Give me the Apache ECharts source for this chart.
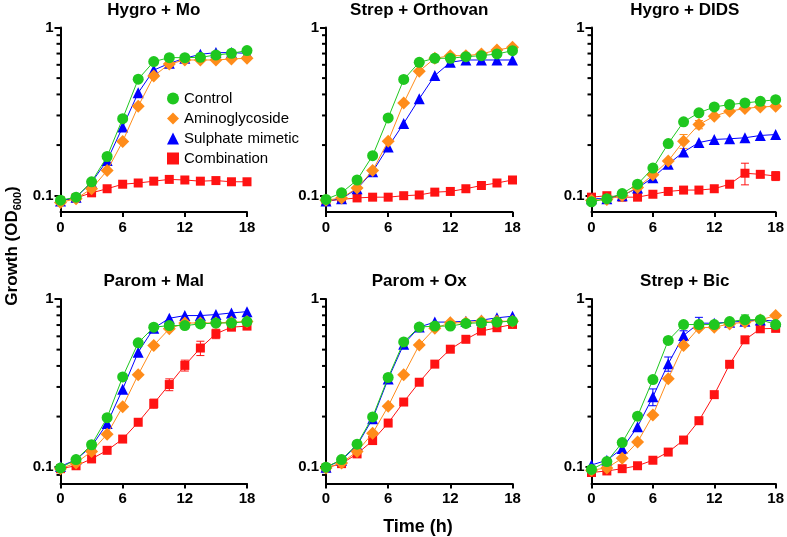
<!DOCTYPE html>
<html>
<head>
<meta charset="utf-8">
<script src="https://cdn.jsdelivr.net/npm/echarts@6/dist/echarts.min.js"></script>
<style>
  html, body { margin: 0; padding: 0; background: #fff; }
  #mybox { width: 787px; height: 537px; }
</style>
</head>
<body>
<div id="mybox"></div>
<script>
// time points (h)
var hours = [0, 1.5, 3, 4.5, 6, 7.5, 9, 10.5, 12, 13.5, 15, 16.5, 18];
var seriesNames = ['Control', 'Aminoglycoside', 'Sulphate mimetic', 'Combination'];
var panelTitles = ['Hygro + Mo', 'Strep + Orthovan', 'Hygro + DIDS', 'Parom + Mal', 'Parom + Ox', 'Strep + Bic'];
var xTicks = [0, 6, 12, 18];
var yLabels = [0.1, 1];
var yMinorTicks = [0.09, 0.2, 0.3, 0.4, 0.5, 0.6, 0.7, 0.8, 0.9];

// OD600 per panel: [control, aminoglycoside, sulphate mimetic, combination]
var hygroMo = [
    [0.094, 0.098, 0.121, 0.171, 0.287, 0.493, 0.627, 0.662, 0.662, 0.665, 0.686, 0.702, 0.729],
    [0.091, 0.096, 0.110, 0.141, 0.210, 0.340, 0.514, 0.607, 0.641, 0.641, 0.641, 0.650, 0.656],
    [0.093, 0.098, 0.120, 0.162, 0.256, 0.409, 0.558, 0.612, 0.656, 0.693, 0.709, 0.709, 0.702],
    [0.093, 0.097, 0.104, 0.110, 0.117, 0.119, 0.122, 0.125, 0.124, 0.122, 0.123, 0.121, 0.121]
];
var strepOrthovan = [
    [0.095, 0.104, 0.124, 0.173, 0.290, 0.491, 0.621, 0.656, 0.656, 0.671, 0.680, 0.696, 0.728],
    [0.094, 0.097, 0.111, 0.141, 0.211, 0.356, 0.550, 0.656, 0.680, 0.680, 0.696, 0.735, 0.762],
    [0.093, 0.096, 0.110, 0.139, 0.195, 0.269, 0.377, 0.518, 0.621, 0.641, 0.641, 0.641, 0.641],
    [0.093, 0.095, 0.097, 0.098, 0.098, 0.100, 0.101, 0.105, 0.106, 0.110, 0.115, 0.119, 0.124]
];
var hygroDids = [
    [0.092, 0.096, 0.103, 0.117, 0.146, 0.204, 0.275, 0.311, 0.337, 0.348, 0.356, 0.364, 0.372],
    [0.094, 0.095, 0.100, 0.112, 0.133, 0.161, 0.211, 0.265, 0.297, 0.318, 0.330, 0.337, 0.340],
    [0.096, 0.096, 0.100, 0.111, 0.128, 0.154, 0.182, 0.207, 0.216, 0.218, 0.221, 0.228, 0.231],
    [0.098, 0.100, 0.098, 0.098, 0.102, 0.106, 0.108, 0.108, 0.110, 0.117, 0.136, 0.134, 0.131]
];
var paromMal = [
    [0.099, 0.111, 0.136, 0.197, 0.344, 0.549, 0.680, 0.695, 0.695, 0.711, 0.720, 0.720, 0.734],
    [0.098, 0.106, 0.124, 0.157, 0.229, 0.355, 0.530, 0.665, 0.720, 0.720, 0.720, 0.727, 0.734],
    [0.101, 0.111, 0.133, 0.182, 0.291, 0.483, 0.670, 0.768, 0.797, 0.797, 0.808, 0.826, 0.841],
    [0.098, 0.102, 0.112, 0.126, 0.147, 0.185, 0.239, 0.310, 0.403, 0.511, 0.621, 0.680, 0.690]
];
var paromOx = [
    [0.100, 0.111, 0.137, 0.199, 0.342, 0.556, 0.681, 0.690, 0.690, 0.716, 0.722, 0.729, 0.738],
    [0.099, 0.106, 0.124, 0.159, 0.230, 0.355, 0.533, 0.669, 0.722, 0.722, 0.738, 0.738, 0.738],
    [0.100, 0.110, 0.135, 0.194, 0.335, 0.538, 0.681, 0.729, 0.729, 0.738, 0.749, 0.773, 0.790],
    [0.099, 0.105, 0.120, 0.144, 0.183, 0.244, 0.320, 0.410, 0.503, 0.576, 0.645, 0.675, 0.706]
];
var strepBic = [
    [0.097, 0.108, 0.140, 0.201, 0.332, 0.567, 0.705, 0.705, 0.705, 0.734, 0.754, 0.754, 0.705],
    [0.096, 0.099, 0.113, 0.141, 0.204, 0.336, 0.530, 0.674, 0.680, 0.711, 0.728, 0.751, 0.797],
    [0.103, 0.110, 0.129, 0.174, 0.262, 0.412, 0.607, 0.718, 0.718, 0.728, 0.738, 0.751, 0.738],
    [0.093, 0.095, 0.098, 0.102, 0.110, 0.123, 0.145, 0.189, 0.270, 0.409, 0.572, 0.665, 0.669]
];
// error bars: [series index, time index, sd]
var hygroDidsErr = [[1, 6, 0.02], [1, 7, 0.015], [3, 10, 0.02], [3, 11, 0.006], [3, 12, 0.008]];
var paromMalErr = [[3, 6, 0.015], [3, 7, 0.025], [3, 8, 0.03], [3, 9, 0.05], [3, 10, 0.04]];
var strepBicErr = [[2, 4, 0.03], [2, 5, 0.04], [2, 6, 0.04], [2, 7, 0.06], [0, 10, 0.05]];

var panels = [hygroMo, strepOrthovan, hygroDids, paromMal, paromOx, strepBic];
var panelErrs = [[], [], hygroDidsErr, paromMalErr, [], strepBicErr];

var colors = ['#1fc71f', '#ff8c1a', '#0000ff', '#ff1212'];
var symbols = ['circle', 'diamond', 'triangle', 'rect'];
var symbolSizes = [11, 13, 11, 9];
var FONT = 'Arial, "Liberation Sans", sans-serif';

// layout
var colLeft = [60.5, 326, 591.5];
var rowTop = [27.5, 299];
var gw = 186.5, gh = 184.5;

var mycharts = echarts.init(document.getElementById('mybox'));

var grids = [], xAxes = [], yAxes = [], titles = [], series = [];
for (var p = 0; p < 6; p++) {
    var c = p % 3, r = Math.floor(p / 3);
    grids.push({ left: colLeft[c], top: rowTop[r], width: gw, height: gh });
    titles.push({
        text: panelTitles[p],
        left: colLeft[c] + gw / 2,
        top: r === 0 ? 2 : 273,
        textAlign: 'center',
        padding: 0,
        textStyle: { fontFamily: FONT, fontSize: 17, fontWeight: 'bold', color: '#000' }
    });
    xAxes.push({
        type: 'value', gridIndex: p, min: 0, max: 18, interval: 6,
        splitLine: { show: false },
        axisLine: { lineStyle: { color: '#000', width: 2 } },
        axisTick: { length: 5, lineStyle: { color: '#000', width: 2 } },
        axisLabel: { margin: 8, fontFamily: FONT, fontSize: 15, fontWeight: 'bold', color: '#000' }
    });
    yAxes.push({
        type: 'log', gridIndex: p, min: 0.08, max: 1, logBase: 10,
        splitLine: { show: false },
        axisLine: { show: true, lineStyle: { color: '#000', width: 2 } },
        axisTick: { show: true, length: 6, customValues: yLabels, lineStyle: { color: '#000', width: 2 } },
        axisLabel: {
            margin: 7, customValues: yLabels, fontFamily: FONT, fontSize: 15, fontWeight: 'bold', color: '#000',
            formatter: function (v) { return String(+v.toPrecision(3)); }
        }
    });

    // minor ticks on the log axis
    series.push({
        type: 'custom', xAxisIndex: p, yAxisIndex: p, silent: true, clip: false, z: 1,
        data: yMinorTicks.map(function (v) { return [0, v]; }),
        renderItem: function (params, api) {
            var pt = api.coord([0, api.value(1)]);
            return {
                type: 'line',
                shape: { x1: pt[0] - 4, y1: pt[1], x2: pt[0], y2: pt[1] },
                style: { stroke: '#000', lineWidth: 2 }
            };
        }
    });

    var data = panels[p];
    // error bars
    var errs = panelErrs[p];
    for (var e = 0; e < errs.length; e++) {
        (function (err) {
            var si = err[0], ti = err[1], sd = err[2];
            var v = data[si][ti];
            series.push({
                type: 'custom', xAxisIndex: p, yAxisIndex: p, silent: true, clip: false, z: 2,
                data: [[hours[ti], v - sd, v + sd]],
                renderItem: function (params, api) {
                    var lo = api.coord([api.value(0), api.value(1)]);
                    var hi = api.coord([api.value(0), api.value(2)]);
                    var st = { stroke: colors[si], lineWidth: 1 };
                    return {
                        type: 'group',
                        children: [
                            { type: 'line', shape: { x1: lo[0], y1: lo[1], x2: hi[0], y2: hi[1] }, style: st },
                            { type: 'line', shape: { x1: lo[0] - 4, y1: lo[1], x2: lo[0] + 4, y2: lo[1] }, style: st },
                            { type: 'line', shape: { x1: hi[0] - 4, y1: hi[1], x2: hi[0] + 4, y2: hi[1] }, style: st }
                        ]
                    };
                }
            });
        })(errs[e]);
    }

    // draw order: combination first, control on top
    for (var k = 3; k >= 0; k--) {
        series.push({
            name: seriesNames[k],
            type: 'line', xAxisIndex: p, yAxisIndex: p,
            data: hours.map(function (h, i) { return [h, data[k][i]]; }),
            symbol: symbols[k], symbolSize: symbolSizes[k], showSymbol: true,
            clip: false, z: 3 + (3 - k),
            itemStyle: { color: colors[k] },
            lineStyle: { color: colors[k], width: 1 },
            emphasis: { disabled: true },
            animation: false
        });
    }
}

var optionObj = {
    animation: false,
    title: titles,
    grid: grids,
    xAxis: xAxes,
    yAxis: yAxes,
    legend: {
        orient: 'vertical',
        left: 162, top: 86,
        itemWidth: 12, itemHeight: 12, itemGap: 5,
        textStyle: { fontFamily: FONT, fontSize: 15, color: '#000' },
        data: seriesNames.map(function (n, i) { return { name: n, icon: symbols[i] }; })
    },
    graphic: [
        {
            type: 'text', x: 12, y: 246, rotation: Math.PI / 2,
            style: {
                text: '{a|Growth (OD}{s|600}{a|)}',
                align: 'center', verticalAlign: 'middle',
                rich: {
                    a: { fontFamily: FONT, fontSize: 17, fontWeight: 'bold', fill: '#000', lineHeight: 22, verticalAlign: 'middle' },
                    s: { fontFamily: FONT, fontSize: 11, fontWeight: 'bold', fill: '#000', lineHeight: 22, verticalAlign: 'bottom', padding: [8, 0, 0, 0] }
                }
            }
        },
        {
            type: 'text', x: 418, y: 527,
            style: {
                text: 'Time (h)', align: 'center', verticalAlign: 'middle',
                fontFamily: FONT, fontSize: 18, fontWeight: 'bold', fill: '#000'
            }
        }
    ],
    series: series
};

mycharts.setOption(optionObj);
</script>
</body>
</html>
